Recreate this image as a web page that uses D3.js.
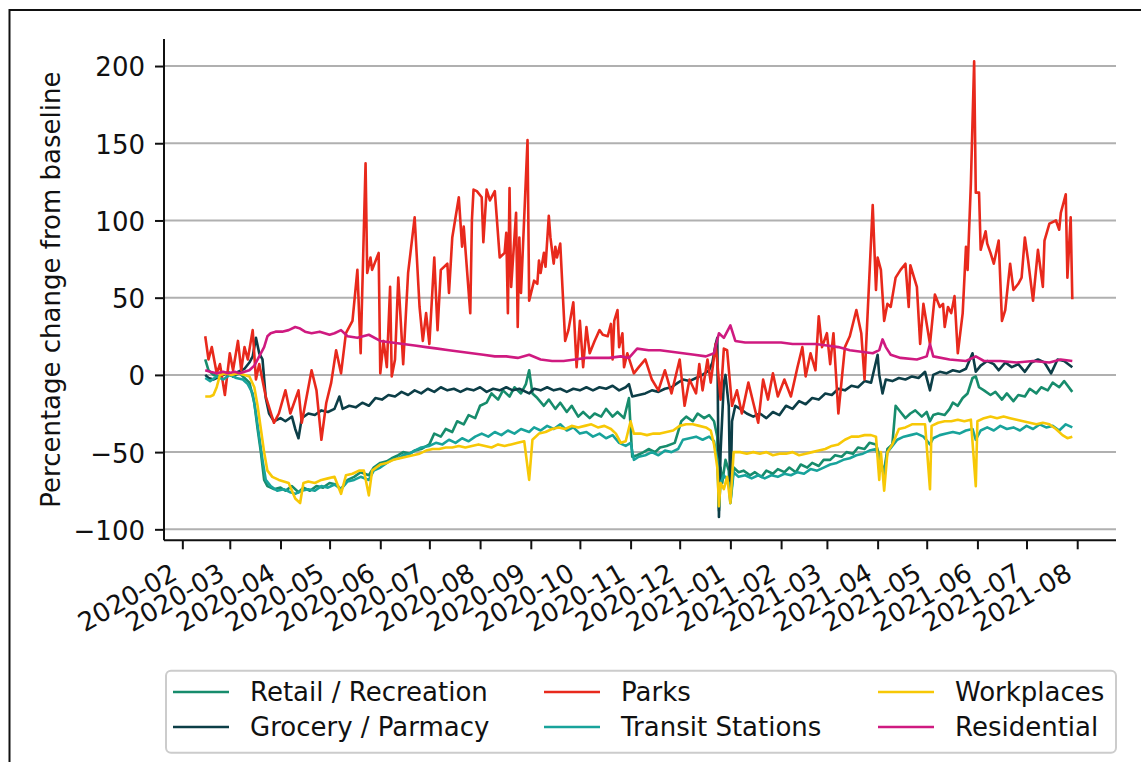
<!DOCTYPE html>
<html>
<head>
<meta charset="utf-8">
<script src="https://cdn.jsdelivr.net/npm/d3@7"></script>
<style>
  body { margin: 0; background: #fff; }
  svg { display: block; }
  text { font-family: "DejaVu Sans", sans-serif; fill: #111; }
</style>
</head>
<body>
<svg id="chart" width="1141" height="762"></svg>
<script>
// Community mobility, daily percentage change from baseline
const seriesNames = ["Retail / Recreation", "Grocery / Parmacy", "Parks",
                     "Transit Stations", "Workplaces", "Residential"];
const seriesColors = ["#178c6c", "#0c3e47", "#e8291c", "#18a39b", "#f7c806", "#cf1a80"];
const yTickValues = [-100, -50, 0, 50, 100, 150, 200];
const yLabel = "Percentage change from baseline";

const retail = [
  ["2020-02-15",10],["2020-02-17",3],["2020-02-20",0],["2020-02-24",-1],["2020-02-29",2],
  ["2020-03-03",-1],["2020-03-07",1],["2020-03-10",-2],["2020-03-13",-5],["2020-03-16",-18],
  ["2020-03-18",-35],["2020-03-20",-50],["2020-03-22",-68],["2020-03-24",-72],["2020-03-28",-74],
  ["2020-04-01",-73],["2020-04-04",-75],["2020-04-08",-72],["2020-04-12",-76],["2020-04-15",-73],
  ["2020-04-19",-75],["2020-04-23",-72],["2020-04-27",-73],["2020-05-01",-70],["2020-05-05",-71],
  ["2020-05-08",-74],["2020-05-12",-68],["2020-05-16",-66],["2020-05-20",-63],["2020-05-25",-65],
  ["2020-05-28",-60],["2020-06-01",-57],["2020-06-05",-56],["2020-06-08",-54],["2020-06-12",-52],
  ["2020-06-15",-50],["2020-06-19",-51],["2020-06-22",-49],["2020-06-26",-48],["2020-07-01",-45],
  ["2020-07-04",-38],["2020-07-08",-40],["2020-07-11",-35],["2020-07-15",-37],["2020-07-18",-30],
  ["2020-07-22",-32],["2020-07-25",-26],["2020-07-29",-28],["2020-08-01",-20],["2020-08-05",-18],
  ["2020-08-08",-12],["2020-08-12",-16],["2020-08-15",-10],["2020-08-19",-14],["2020-08-22",-8],
  ["2020-08-26",-12],["2020-08-29",-6],["2020-08-31",3],["2020-09-02",-12],["2020-09-05",-15],
  ["2020-09-09",-20],["2020-09-12",-16],["2020-09-16",-22],["2020-09-19",-18],["2020-09-23",-24],
  ["2020-09-26",-20],["2020-09-30",-27],["2020-10-03",-24],["2020-10-07",-28],["2020-10-10",-25],
  ["2020-10-14",-27],["2020-10-17",-22],["2020-10-21",-27],["2020-10-24",-24],["2020-10-28",-28],
  ["2020-10-31",-15],["2020-11-02",-53],["2020-11-05",-52],["2020-11-09",-50],["2020-11-12",-48],
  ["2020-11-16",-50],["2020-11-19",-47],["2020-11-23",-46],["2020-11-28",-44],["2020-12-02",-30],
  ["2020-12-05",-27],["2020-12-09",-30],["2020-12-12",-25],["2020-12-16",-28],["2020-12-19",-26],
  ["2020-12-22",-30],["2020-12-24",-40],["2020-12-25",-88],["2020-12-26",-60],["2020-12-27",-70],
  ["2020-12-29",-55],["2020-12-31",-62],["2021-01-01",-82],["2021-01-03",-60],["2021-01-06",-63],
  ["2021-01-09",-62],["2021-01-13",-65],["2021-01-16",-63],["2021-01-20",-66],["2021-01-23",-62],
  ["2021-01-27",-64],["2021-01-30",-61],["2021-02-03",-63],["2021-02-06",-60],["2021-02-10",-63],
  ["2021-02-13",-58],["2021-02-17",-60],["2021-02-20",-57],["2021-02-24",-59],["2021-02-27",-55],
  ["2021-03-03",-55],["2021-03-06",-52],["2021-03-10",-53],["2021-03-13",-50],["2021-03-17",-51],
  ["2021-03-20",-47],["2021-03-24",-48],["2021-03-27",-44],["2021-03-31",-45],["2021-04-02",-52],
  ["2021-04-04",-60],["2021-04-05",-62],["2021-04-07",-48],["2021-04-10",-45],["2021-04-12",-20],
  ["2021-04-15",-24],["2021-04-18",-28],["2021-04-21",-25],["2021-04-24",-23],["2021-04-28",-27],
  ["2021-05-01",-24],["2021-05-03",-30],["2021-05-05",-26],["2021-05-08",-25],["2021-05-12",-26],
  ["2021-05-15",-22],["2021-05-17",-18],["2021-05-20",-20],["2021-05-23",-15],["2021-05-26",-12],
  ["2021-05-29",-2],["2021-05-31",-1],["2021-06-02",-8],["2021-06-05",-10],["2021-06-09",-13],
  ["2021-06-12",-11],["2021-06-16",-16],["2021-06-19",-12],["2021-06-23",-17],["2021-06-26",-13],
  ["2021-06-30",-14],["2021-07-03",-9],["2021-07-07",-12],["2021-07-10",-8],["2021-07-14",-10],
  ["2021-07-17",-5],["2021-07-21",-8],["2021-07-24",-4],["2021-07-29",-11]
];

const grocery = [
  ["2020-02-15",0],["2020-02-17",-2],["2020-02-20",-3],["2020-02-24",-1],["2020-02-28",1],
  ["2020-03-03",-1],["2020-03-06",2],["2020-03-10",4],["2020-03-13",8],["2020-03-15",12],
  ["2020-03-17",24],["2020-03-19",14],["2020-03-21",10],["2020-03-23",-15],["2020-03-25",-25],
  ["2020-03-28",-30],["2020-04-01",-28],["2020-04-04",-30],["2020-04-08",-27],["2020-04-10",-35],
  ["2020-04-12",-41],["2020-04-14",-28],["2020-04-18",-25],["2020-04-22",-26],["2020-04-26",-23],
  ["2020-04-30",-24],["2020-05-04",-22],["2020-05-07",-14],["2020-05-09",-22],["2020-05-13",-20],
  ["2020-05-17",-21],["2020-05-21",-18],["2020-05-25",-20],["2020-05-29",-15],["2020-06-02",-16],
  ["2020-06-06",-13],["2020-06-10",-14],["2020-06-14",-11],["2020-06-18",-13],["2020-06-22",-10],
  ["2020-06-26",-12],["2020-06-30",-9],["2020-07-04",-11],["2020-07-08",-8],["2020-07-12",-10],
  ["2020-07-16",-9],["2020-07-20",-11],["2020-07-24",-9],["2020-07-28",-10],["2020-08-01",-8],
  ["2020-08-05",-11],["2020-08-09",-9],["2020-08-13",-10],["2020-08-17",-8],["2020-08-21",-10],
  ["2020-08-25",-9],["2020-08-31",-12],["2020-09-03",-9],["2020-09-07",-10],["2020-09-11",-8],
  ["2020-09-15",-10],["2020-09-19",-9],["2020-09-23",-11],["2020-09-27",-9],["2020-10-01",-10],
  ["2020-10-05",-8],["2020-10-09",-10],["2020-10-13",-8],["2020-10-17",-9],["2020-10-21",-7],
  ["2020-10-25",-10],["2020-10-29",-8],["2020-10-31",-6],["2020-11-02",-14],["2020-11-06",-13],
  ["2020-11-10",-12],["2020-11-14",-10],["2020-11-18",-11],["2020-11-22",-9],["2020-11-26",-8],
  ["2020-11-30",-5],["2020-12-03",-3],["2020-12-07",-4],["2020-12-11",-2],["2020-12-15",0],
  ["2020-12-19",3],["2020-12-21",8],["2020-12-23",20],["2020-12-24",24],["2020-12-25",-92],
  ["2020-12-26",-50],["2020-12-28",-5],["2020-12-29",0],["2020-12-31",-20],["2021-01-01",-82],
  ["2021-01-02",-30],["2021-01-04",-20],["2021-01-07",-22],["2021-01-11",-25],["2021-01-15",-27],
  ["2021-01-19",-25],["2021-01-23",-28],["2021-01-27",-24],["2021-01-31",-26],["2021-02-04",-20],
  ["2021-02-08",-22],["2021-02-12",-17],["2021-02-16",-19],["2021-02-20",-15],["2021-02-24",-16],
  ["2021-02-28",-12],["2021-03-04",-13],["2021-03-08",-9],["2021-03-12",-10],["2021-03-16",-7],
  ["2021-03-20",-8],["2021-03-24",-4],["2021-03-28",-5],["2021-04-01",13],["2021-04-02",0],
  ["2021-04-04",-12],["2021-04-06",-3],["2021-04-10",-4],["2021-04-14",-2],["2021-04-18",-3],
  ["2021-04-22",-1],["2021-04-26",-2],["2021-04-30",2],["2021-05-03",-10],["2021-05-05",0],
  ["2021-05-09",2],["2021-05-13",1],["2021-05-17",3],["2021-05-21",2],["2021-05-25",4],
  ["2021-05-29",14],["2021-05-31",2],["2021-06-03",6],["2021-06-07",9],["2021-06-11",7],
  ["2021-06-14",3],["2021-06-18",8],["2021-06-22",5],["2021-06-26",7],["2021-06-30",2],
  ["2021-07-04",8],["2021-07-08",10],["2021-07-12",8],["2021-07-16",1],["2021-07-20",10],
  ["2021-07-24",9],["2021-07-29",5]
];

const parks = [
  ["2020-02-15",25],["2020-02-17",10],["2020-02-19",18],["2020-02-22",1],["2020-02-24",7],
  ["2020-02-27",-13],["2020-03-01",14],["2020-03-03",3],["2020-03-06",22],["2020-03-08",3],
  ["2020-03-10",18],["2020-03-12",10],["2020-03-15",29],["2020-03-17",-3],["2020-03-19",7],
  ["2020-03-23",-14],["2020-03-28",-31],["2020-03-31",-25],["2020-04-04",-10],["2020-04-07",-25],
  ["2020-04-12",-10],["2020-04-14",-31],["2020-04-20",3],["2020-04-23",-10],["2020-04-26",-42],
  ["2020-04-29",-18],["2020-05-02",-5],["2020-05-05",16],["2020-05-08",1],["2020-05-11",27],
  ["2020-05-15",35],["2020-05-18",68],["2020-05-20",14],["2020-05-23",137],["2020-05-24",66],
  ["2020-05-26",76],["2020-05-27",68],["2020-05-31",79],["2020-06-01",1],["2020-06-03",22],
  ["2020-06-05",5],["2020-06-07",57],["2020-06-08",-1],["2020-06-10",10],["2020-06-12",63],
  ["2020-06-15",7],["2020-06-18",66],["2020-06-22",102],["2020-06-25",44],["2020-06-27",22],
  ["2020-06-29",40],["2020-07-01",20],["2020-07-04",76],["2020-07-06",29],["2020-07-08",68],
  ["2020-07-12",72],["2020-07-13",53],["2020-07-15",89],["2020-07-19",115],["2020-07-21",83],
  ["2020-07-22",96],["2020-07-26",40],["2020-07-27",100],["2020-07-28",120],["2020-07-30",119],
  ["2020-08-02",115],["2020-08-03",86],["2020-08-05",120],["2020-08-07",113],["2020-08-10",119],
  ["2020-08-13",76],["2020-08-16",79],["2020-08-17",92],["2020-08-18",40],["2020-08-19",121],
  ["2020-08-20",57],["2020-08-23",105],["2020-08-24",31],["2020-08-25",89],["2020-08-26",53],
  ["2020-08-30",152],["2020-08-31",48],["2020-09-03",61],["2020-09-05",59],["2020-09-06",74],
  ["2020-09-07",66],["2020-09-09",79],["2020-09-10",70],["2020-09-12",103],["2020-09-13",89],
  ["2020-09-15",72],["2020-09-16",83],["2020-09-17",76],["2020-09-19",85],["2020-09-22",22],
  ["2020-09-24",29],["2020-09-27",47],["2020-09-29",5],["2020-10-01",35],["2020-10-03",5],
  ["2020-10-05",31],["2020-10-07",14],["2020-10-10",22],["2020-10-13",29],["2020-10-15",26],
  ["2020-10-18",25],["2020-10-20",33],["2020-10-21",10],["2020-10-22",35],["2020-10-24",42],
  ["2020-10-25",18],["2020-10-27",27],["2020-10-28",5],["2020-10-30",14],["2020-11-03",1],
  ["2020-11-06",5],["2020-11-10",10],["2020-11-14",-3],["2020-11-18",-10],["2020-11-22",3],
  ["2020-11-26",-12],["2020-12-01",10],["2020-12-04",-20],["2020-12-07",-3],["2020-12-11",-12],
  ["2020-12-13",7],["2020-12-15",-10],["2020-12-18",10],["2020-12-20",-5],["2020-12-23",20],
  ["2020-12-26",-16],["2020-12-28",17],["2020-12-30",16],["2021-01-02",-20],["2021-01-05",-10],
  ["2021-01-08",-25],["2021-01-12",-5],["2021-01-15",-18],["2021-01-18",-31],["2021-01-21",-3],
  ["2021-01-24",-16],["2021-01-27",1],["2021-01-30",-14],["2021-02-03",-3],["2021-02-07",-14],
  ["2021-02-11",5],["2021-02-14",18],["2021-02-16",-1],["2021-02-19",14],["2021-02-22",3],
  ["2021-02-24",38],["2021-02-26",18],["2021-03-01",27],["2021-03-03",7],["2021-03-05",27],
  ["2021-03-08",-25],["2021-03-12",18],["2021-03-15",25],["2021-03-19",42],["2021-03-22",27],
  ["2021-03-24",-3],["2021-03-29",110],["2021-03-31",55],["2021-04-01",76],["2021-04-03",68],
  ["2021-04-05",35],["2021-04-07",46],["2021-04-09",44],["2021-04-12",63],["2021-04-15",68],
  ["2021-04-18",72],["2021-04-20",44],["2021-04-21",71],["2021-04-25",57],["2021-04-27",20],
  ["2021-04-29",46],["2021-05-03",20],["2021-05-06",52],["2021-05-09",44],["2021-05-11",46],
  ["2021-05-12",31],["2021-05-14",44],["2021-05-16",40],["2021-05-18",51],["2021-05-20",14],
  ["2021-05-23",40],["2021-05-25",83],["2021-05-26",68],["2021-05-28",124],["2021-05-30",203],
  ["2021-05-31",118],["2021-06-02",118],["2021-06-03",81],["2021-06-06",93],["2021-06-07",85],
  ["2021-06-09",79],["2021-06-11",72],["2021-06-14",87],["2021-06-16",35],["2021-06-18",42],
  ["2021-06-21",72],["2021-06-23",55],["2021-06-26",59],["2021-06-28",63],["2021-06-30",89],
  ["2021-07-02",74],["2021-07-05",48],["2021-07-08",81],["2021-07-11",57],["2021-07-12",87],
  ["2021-07-15",98],["2021-07-19",100],["2021-07-21",94],["2021-07-22",105],["2021-07-25",117],
  ["2021-07-26",63],["2021-07-28",102],["2021-07-29",49]
];

const transit = [
  ["2020-02-15",-2],["2020-02-18",-4],["2020-02-22",-1],["2020-02-26",-3],["2020-03-01",0],
  ["2020-03-05",-2],["2020-03-09",-3],["2020-03-12",-6],["2020-03-15",-12],["2020-03-17",-25],
  ["2020-03-19",-40],["2020-03-21",-55],["2020-03-23",-68],["2020-03-26",-72],["2020-03-30",-75],
  ["2020-04-03",-74],["2020-04-07",-76],["2020-04-10",-77],["2020-04-14",-75],["2020-04-18",-74],
  ["2020-04-22",-75],["2020-04-26",-72],["2020-04-30",-73],["2020-05-04",-71],["2020-05-08",-74],
  ["2020-05-12",-69],["2020-05-16",-68],["2020-05-20",-66],["2020-05-25",-68],["2020-05-28",-62],
  ["2020-06-01",-60],["2020-06-05",-57],["2020-06-08",-55],["2020-06-12",-54],["2020-06-15",-52],
  ["2020-06-19",-51],["2020-06-22",-49],["2020-06-26",-47],["2020-07-01",-46],["2020-07-05",-44],
  ["2020-07-09",-45],["2020-07-13",-42],["2020-07-17",-44],["2020-07-21",-41],["2020-07-25",-43],
  ["2020-07-29",-40],["2020-08-02",-38],["2020-08-06",-40],["2020-08-10",-37],["2020-08-14",-39],
  ["2020-08-18",-36],["2020-08-22",-38],["2020-08-26",-35],["2020-08-31",-37],["2020-09-03",-34],
  ["2020-09-07",-36],["2020-09-11",-33],["2020-09-15",-35],["2020-09-19",-32],["2020-09-23",-36],
  ["2020-09-27",-34],["2020-10-01",-38],["2020-10-05",-37],["2020-10-09",-40],["2020-10-13",-38],
  ["2020-10-17",-41],["2020-10-21",-39],["2020-10-25",-44],["2020-10-29",-46],["2020-11-01",-44],
  ["2020-11-03",-55],["2020-11-06",-53],["2020-11-10",-52],["2020-11-14",-50],["2020-11-18",-52],
  ["2020-11-22",-49],["2020-11-26",-50],["2020-11-30",-48],["2020-12-03",-42],["2020-12-07",-41],
  ["2020-12-11",-40],["2020-12-15",-42],["2020-12-19",-40],["2020-12-22",-43],["2020-12-24",-55],
  ["2020-12-25",-85],["2020-12-26",-70],["2020-12-28",-65],["2020-12-31",-70],["2021-01-01",-83],
  ["2021-01-03",-63],["2021-01-06",-66],["2021-01-10",-65],["2021-01-14",-67],["2021-01-18",-65],
  ["2021-01-22",-67],["2021-01-26",-65],["2021-01-30",-66],["2021-02-03",-64],["2021-02-07",-65],
  ["2021-02-11",-63],["2021-02-15",-64],["2021-02-19",-61],["2021-02-23",-62],["2021-02-27",-60],
  ["2021-03-03",-58],["2021-03-07",-57],["2021-03-11",-55],["2021-03-15",-54],["2021-03-19",-52],
  ["2021-03-23",-51],["2021-03-27",-49],["2021-03-31",-48],["2021-04-02",-55],["2021-04-04",-62],
  ["2021-04-05",-64],["2021-04-07",-50],["2021-04-10",-46],["2021-04-13",-42],["2021-04-17",-40],
  ["2021-04-21",-39],["2021-04-25",-38],["2021-04-29",-40],["2021-05-03",-45],["2021-05-05",-41],
  ["2021-05-09",-39],["2021-05-13",-38],["2021-05-17",-37],["2021-05-21",-38],["2021-05-25",-36],
  ["2021-05-29",-35],["2021-05-31",-42],["2021-06-03",-36],["2021-06-07",-34],["2021-06-11",-36],
  ["2021-06-15",-33],["2021-06-19",-35],["2021-06-23",-34],["2021-06-27",-36],["2021-07-01",-33],
  ["2021-07-05",-35],["2021-07-09",-32],["2021-07-13",-34],["2021-07-17",-33],["2021-07-21",-36],
  ["2021-07-25",-32],["2021-07-29",-34]
];

const workplaces = [
  ["2020-02-15",-14],["2020-02-18",-14],["2020-02-20",-13],["2020-02-22",-8],["2020-02-24",0],
  ["2020-02-28",1],["2020-03-02",0],["2020-03-06",1],["2020-03-10",0],["2020-03-13",-1],
  ["2020-03-16",-8],["2020-03-18",-20],["2020-03-20",-35],["2020-03-22",-50],["2020-03-24",-62],
  ["2020-03-27",-66],["2020-03-31",-68],["2020-04-03",-69],["2020-04-06",-70],["2020-04-10",-80],
  ["2020-04-13",-83],["2020-04-15",-70],["2020-04-18",-69],["2020-04-22",-70],["2020-04-26",-68],
  ["2020-04-30",-67],["2020-05-04",-66],["2020-05-08",-77],["2020-05-11",-65],["2020-05-15",-64],
  ["2020-05-19",-62],["2020-05-22",-62],["2020-05-25",-78],["2020-05-27",-62],["2020-06-01",-58],
  ["2020-06-05",-57],["2020-06-09",-55],["2020-06-13",-54],["2020-06-17",-53],["2020-06-21",-52],
  ["2020-06-25",-51],["2020-06-29",-49],["2020-07-03",-48],["2020-07-07",-48],["2020-07-11",-47],
  ["2020-07-15",-47],["2020-07-19",-46],["2020-07-23",-47],["2020-07-27",-46],["2020-07-31",-45],
  ["2020-08-04",-46],["2020-08-08",-47],["2020-08-12",-45],["2020-08-16",-46],["2020-08-20",-45],
  ["2020-08-24",-44],["2020-08-28",-43],["2020-08-31",-68],["2020-09-02",-42],["2020-09-06",-38],
  ["2020-09-10",-37],["2020-09-14",-35],["2020-09-18",-34],["2020-09-22",-35],["2020-09-26",-33],
  ["2020-09-30",-34],["2020-10-04",-33],["2020-10-08",-32],["2020-10-12",-34],["2020-10-16",-33],
  ["2020-10-20",-35],["2020-10-23",-38],["2020-10-26",-44],["2020-10-29",-43],["2020-11-01",-30],
  ["2020-11-03",-38],["2020-11-07",-38],["2020-11-11",-39],["2020-11-15",-38],["2020-11-19",-38],
  ["2020-11-23",-37],["2020-11-27",-36],["2020-12-01",-33],["2020-12-05",-32],["2020-12-09",-32],
  ["2020-12-13",-33],["2020-12-17",-34],["2020-12-20",-36],["2020-12-22",-45],["2020-12-24",-60],
  ["2020-12-25",-85],["2020-12-26",-70],["2020-12-28",-74],["2020-12-30",-66],["2021-01-01",-83],
  ["2021-01-03",-50],["2021-01-07",-50],["2021-01-11",-51],["2021-01-15",-50],["2021-01-19",-51],
  ["2021-01-23",-50],["2021-01-27",-52],["2021-01-31",-51],["2021-02-04",-51],["2021-02-08",-50],
  ["2021-02-12",-52],["2021-02-16",-51],["2021-02-20",-50],["2021-02-24",-49],["2021-02-28",-48],
  ["2021-03-04",-46],["2021-03-08",-45],["2021-03-12",-42],["2021-03-16",-40],["2021-03-20",-40],
  ["2021-03-24",-39],["2021-03-28",-39],["2021-03-31",-40],["2021-04-02",-68],["2021-04-03",-50],
  ["2021-04-05",-75],["2021-04-07",-50],["2021-04-10",-45],["2021-04-14",-35],["2021-04-18",-34],
  ["2021-04-22",-32],["2021-04-26",-32],["2021-04-30",-32],["2021-05-03",-74],["2021-05-04",-33],
  ["2021-05-08",-31],["2021-05-12",-30],["2021-05-16",-30],["2021-05-20",-29],["2021-05-24",-30],
  ["2021-05-28",-29],["2021-05-31",-72],["2021-06-01",-30],["2021-06-05",-28],["2021-06-09",-27],
  ["2021-06-13",-28],["2021-06-17",-27],["2021-06-21",-28],["2021-06-25",-29],["2021-06-29",-30],
  ["2021-07-03",-31],["2021-07-07",-32],["2021-07-11",-31],["2021-07-15",-32],["2021-07-19",-35],
  ["2021-07-23",-39],["2021-07-26",-41],["2021-07-29",-40]
];

const residential = [
  ["2020-02-15",3],["2020-02-18",2],["2020-02-22",1],["2020-02-26",2],["2020-02-29",1],
  ["2020-03-04",2],["2020-03-07",1],["2020-03-10",2],["2020-03-13",3],["2020-03-16",6],
  ["2020-03-19",12],["2020-03-22",18],["2020-03-24",25],["2020-03-26",27],["2020-03-29",28],
  ["2020-04-02",28],["2020-04-06",29],["2020-04-10",31],["2020-04-13",30],["2020-04-16",28],
  ["2020-04-20",27],["2020-04-25",28],["2020-05-01",26],["2020-05-04",27],["2020-05-08",29],
  ["2020-05-12",25],["2020-05-18",24],["2020-05-25",26],["2020-06-01",22],["2020-06-08",21],
  ["2020-06-15",20],["2020-06-22",19],["2020-06-29",18],["2020-07-06",17],["2020-07-13",16],
  ["2020-07-20",15],["2020-07-27",14],["2020-08-03",13],["2020-08-10",12],["2020-08-17",12],
  ["2020-08-24",11],["2020-08-31",13],["2020-09-07",10],["2020-09-14",9],["2020-09-21",9],
  ["2020-09-28",10],["2020-10-05",11],["2020-10-12",11],["2020-10-19",11],["2020-10-26",12],
  ["2020-10-31",11],["2020-11-05",17],["2020-11-12",16],["2020-11-19",16],["2020-11-26",15],
  ["2020-12-03",14],["2020-12-10",13],["2020-12-17",12],["2020-12-22",14],["2020-12-25",27],
  ["2020-12-28",24],["2021-01-01",32],["2021-01-04",22],["2021-01-10",21],["2021-01-17",21],
  ["2021-01-24",21],["2021-02-01",21],["2021-02-08",20],["2021-02-15",20],["2021-02-22",20],
  ["2021-03-01",19],["2021-03-08",18],["2021-03-15",16],["2021-03-22",15],["2021-03-29",14],
  ["2021-04-02",16],["2021-04-04",23],["2021-04-06",18],["2021-04-09",13],["2021-04-15",11],
  ["2021-04-25",10],["2021-05-01",12],["2021-05-03",20],["2021-05-05",12],["2021-05-15",10],
  ["2021-05-25",9],["2021-05-31",12],["2021-06-05",9],["2021-06-15",9],["2021-06-25",8],
  ["2021-07-05",9],["2021-07-15",8],["2021-07-22",10],["2021-07-29",9]
];

const seriesData = [retail, grocery, parks, transit, workplaces, residential];

// ---- layout ----
const svg = d3.select("#chart");
const plot = { left: 164, right: 1116, top: 39, bottom: 540.3 };
const parseDate = d3.timeParse("%Y-%m-%d");
const fontSize = 26;

const x = d3.scaleTime()
  .domain([new Date(2020, 0, 20, 19), new Date(2021, 7, 24, 17)])
  .range([plot.left, plot.right]);
const y = d3.scaleLinear()
  .domain([-107.1, 217.5])
  .range([plot.bottom, plot.top]);

// outer frame (top and left edges visible)
svg.append("path")
  .attr("d", `M9.5,770 L9.5,10 L1150,10`)
  .attr("fill", "none").attr("stroke", "#111").attr("stroke-width", 2);

// horizontal grid
svg.append("g").selectAll("line").data(yTickValues).join("line")
  .attr("x1", plot.left).attr("x2", plot.right)
  .attr("y1", d => y(d)).attr("y2", d => y(d))
  .attr("stroke", "#b0b0b0").attr("stroke-width", 2);

// series lines
const line = d3.line()
  .x(d => x(parseDate(d[0])))
  .y(d => y(d[1]));

svg.append("g").selectAll("path").data(seriesData).join("path")
  .attr("d", d => line(d))
  .attr("fill", "none")
  .attr("stroke", (d, i) => seriesColors[i])
  .attr("stroke-width", 2.6)
  .attr("stroke-linejoin", "round");

// y axis
const yAxis = svg.append("g")
  .attr("transform", `translate(${plot.left},0)`)
  .call(d3.axisLeft(y).tickValues(yTickValues).tickSize(9).tickPadding(10).tickSizeOuter(0));
yAxis.select(".domain").attr("d", `M0,${plot.top}V${plot.bottom}`).attr("stroke", "#111").attr("stroke-width", 2);
yAxis.selectAll(".tick line").attr("stroke", "#111").attr("stroke-width", 2);
yAxis.selectAll(".tick text")
  .attr("font-size", fontSize).attr("dy", "0.38em")
  .style("font-family", '"DejaVu Sans", sans-serif').attr("fill", "#111");

// x axis
const xAxis = svg.append("g")
  .attr("transform", `translate(0,${plot.bottom})`)
  .call(d3.axisBottom(x).ticks(d3.timeMonth.every(1)).tickFormat(d3.timeFormat("%Y-%m"))
    .tickSize(9).tickSizeOuter(0));
xAxis.select(".domain").attr("d", `M${plot.left},0H${plot.right}`).attr("stroke", "#111").attr("stroke-width", 2);
xAxis.selectAll(".tick line").attr("stroke", "#111").attr("stroke-width", 2);
xAxis.selectAll(".tick text")
  .attr("font-size", fontSize)
  .style("font-family", '"DejaVu Sans", sans-serif').attr("fill", "#111")
  .attr("text-anchor", "end")
  .attr("x", 0).attr("y", 0).attr("dy", 0)
  .attr("transform", "translate(-4,38) rotate(-30)");

// y label
svg.append("text")
  .attr("transform", `translate(60,${(plot.top + plot.bottom) / 2}) rotate(-90)`)
  .attr("text-anchor", "middle")
  .attr("font-size", fontSize)
  .text(yLabel);

// legend
const legend = svg.append("g");
legend.append("rect")
  .attr("x", 166).attr("y", 670.7).attr("width", 950).attr("height", 82)
  .attr("rx", 5).attr("fill", "#fff").attr("stroke", "#cccccc").attr("stroke-width", 2);
const colX = [173, 544, 878];
const rowY = [692, 727];
seriesNames.forEach((name, i) => {
  const cx = colX[Math.floor(i / 2)], cy = rowY[i % 2];
  legend.append("line")
    .attr("x1", cx).attr("x2", cx + 56).attr("y1", cy).attr("y2", cy)
    .attr("stroke", seriesColors[i]).attr("stroke-width", 2.6);
  legend.append("text")
    .attr("x", cx + 77).attr("y", cy).attr("dy", "0.36em")
    .attr("font-size", fontSize)
    .text(name);
});
</script>
</body>
</html>
